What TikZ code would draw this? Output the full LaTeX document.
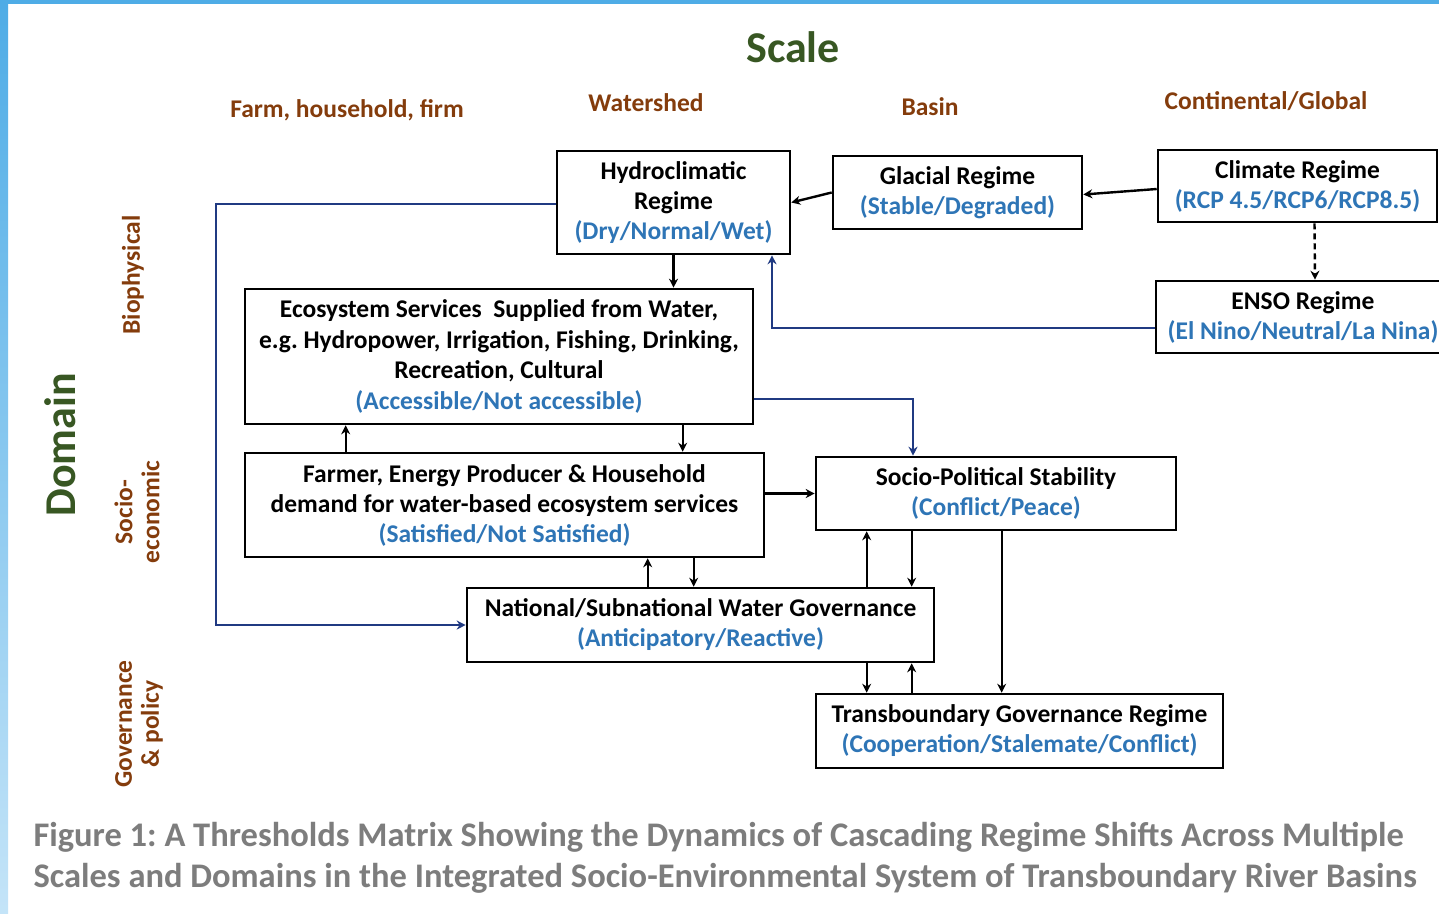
\documentclass[tikz,border=0pt]{standalone}
\usepackage{fontspec}
\setmainfont{Carlito}
\usetikzlibrary{arrows.meta,calc}
\definecolor{txtblue}{RGB}{46,117,182}
\definecolor{hdrbrown}{RGB}{132,60,12}
\definecolor{ttlgreen}{RGB}{56,87,35}
\definecolor{linknavy}{RGB}{32,58,130}
\definecolor{capgray}{RGB}{125,125,125}
\definecolor{frameblue}{RGB}{78,172,230}
\definecolor{framelight}{RGB}{196,228,248}
\newcommand{\st}[1]{\textcolor{txtblue}{#1}}
\frenchspacing
\begin{document}
\begin{tikzpicture}[x=1pt,y=-1pt,
  box/.style={draw, line width=2.6pt, rectangle, inner sep=0pt, align=center,
    font=\bfseries\fontsize{25.5}{30}\selectfont},
  link/.style={line width=2.4pt, -{Stealth[length=9pt,width=9pt]}},
  navylink/.style={link, draw=linknavy},
  hdr/.style={text=hdrbrown, font=\bfseries\fontsize{25.5}{27}\selectfont, align=center},
  ttl/.style={text=ttlgreen, font=\bfseries\fontsize{44}{46}\selectfont},
  captext/.style={text=capgray, font=\bfseries\fontsize{34.5}{41}\selectfont, anchor=base west}]
\useasboundingbox (0,0) rectangle (1439,913);
\fill[white] (0,0) rectangle (1439,913);
% page frame strips
\shade[top color=frameblue, bottom color=framelight] (0,0) rectangle (8,913);
\fill[frameblue] (0,0) rectangle (1439,4);

% axis titles
\node[ttl] (scale) at (793,47) {Scale};
\node[ttl, rotate=90] (domain) at (60,445) {Domain};

% scale headers
\node[hdr] (farm) at (347,110) {Farm, household, firm};
\node[hdr] (wshed) at (646,103) {Watershed};
\node[hdr] (basin) at (930,107) {Basin};
\node[hdr] (glob) at (1266,101) {Continental/Global};

% domain headers
\node[hdr, rotate=90] (bio) at (133,275) {Biophysical};
\node[hdr, rotate=90] (socec) at (137,512) {Socio-\\economic};
\node[hdr, rotate=90] (gov) at (139,724) {Governance\\\& policy};

% regime boxes
\begin{scope}
\clip (0,0) rectangle (1439,913);
\node[box, minimum width=233pt, minimum height=103pt] (hydro) at (673.5,202.5)
  {Hydroclimatic\\Regime\\\st{(Dry/Normal/Wet)}};
\node[box, minimum width=249pt, minimum height=73pt] (glacial) at (957.5,192.5)
  {Glacial Regime\\\st{(Stable/Degraded)}};
\node[box, minimum width=279pt, minimum height=72pt] (climate) at (1297.5,186)
  {Climate Regime\\\st{(RCP 4.5/RCP6/RCP8.5)}};
\node[box, minimum width=294pt, minimum height=72pt] (enso) at (1303,317)
  {ENSO Regime\\\st{(El Nino/Neutral/La Nina)}};
\end{scope}
\node[box, minimum width=508pt, minimum height=135pt, font=\bfseries\fontsize{25.5}{30.5}\selectfont] (eco) at (499,356.5)
  {Ecosystem Services\ \ Supplied from Water,\\e.g. Hydropower, Irrigation, Fishing, Drinking,\\Recreation, Cultural\\\st{(Accessible/Not accessible)}};
\node[box, minimum width=519pt, minimum height=104pt] (farmer) at (504.5,505)
  {Farmer, Energy Producer \& Household\\demand for water-based ecosystem services\\\st{(Satisfied/Not Satisfied)}};
\node[box, minimum width=360pt, minimum height=73pt] (socpol) at (996,493.5)
  {Socio-Political Stability\\\st{(Conflict/Peace)}};
\node[box, minimum width=467pt, minimum height=74pt] (natl) at (700.5,625)
  {National/Subnational Water Governance\\\st{(Anticipatory/Reactive)}};
\node[box, minimum width=407pt, minimum height=74pt] (trans) at (1019.5,731)
  {Transboundary Governance Regime\\\st{(Cooperation/Stalemate/Conflict)}};

% black links
\draw[link] (glacial.west) -- (hydro.east);
\draw[link] ([yshift=-3pt]climate.west) -- ([yshift=-2pt]glacial.east);
\draw[link, dash pattern=on 6pt off 4pt] ([xshift=17pt]climate.south) -- ([xshift=12pt]enso.north);
\draw[link] (hydro.south) -- (hydro.south |- eco.north);
\draw[link] ([xshift=102pt]farmer.north west) -- ([xshift=102pt]farmer.north west |- eco.south);
\draw[link] ([xshift=439pt]eco.south west) -- ([xshift=439pt]eco.south west |- farmer.north);
\draw[link] (farmer.east |- socpol.west) -- (socpol.west);
\draw[link] ([xshift=182pt]natl.north west) -- ([xshift=182pt]natl.north west |- farmer.south);
\draw[link] ([xshift=450pt]farmer.south west) -- ([xshift=450pt]farmer.south west |- natl.north);
\draw[link] ([xshift=401pt]natl.north west) -- ([xshift=401pt]natl.north west |- socpol.south);
\draw[link] ([xshift=97pt]socpol.south west) -- ([xshift=97pt]socpol.south west |- natl.north);
\draw[link] ([xshift=187pt]socpol.south west) -- ([xshift=187pt]socpol.south west |- trans.north);
\draw[link] ([xshift=401pt]natl.south west) -- ([xshift=401pt]natl.south west |- trans.north);
\draw[link] ([xshift=97pt]trans.north west) -- ([xshift=97pt]trans.north west |- natl.south);

% navy links
\coordinate (ensoturn) at (772,328);
\coordinate (hydroleft) at (216,204);
\coordinate (ecoturn) at (913,399);
\draw[navylink] (enso.west |- ensoturn) -- (ensoturn) -- (ensoturn |- hydro.south);
\draw[navylink] (hydro.west |- hydroleft) -- (hydroleft) |- (natl.west);
\draw[navylink] (eco.east |- ecoturn) -- (ecoturn) -- (ecoturn |- socpol.north);

% caption
\node[captext] (cap1) at (30,846) {Figure 1: A Thresholds Matrix Showing the Dynamics of Cascading Regime Shifts Across Multiple};
\node[captext] (cap2) at (30,887) {Scales and Domains in the Integrated Socio-Environmental System of Transboundary River Basins};
\end{tikzpicture}
\end{document}
